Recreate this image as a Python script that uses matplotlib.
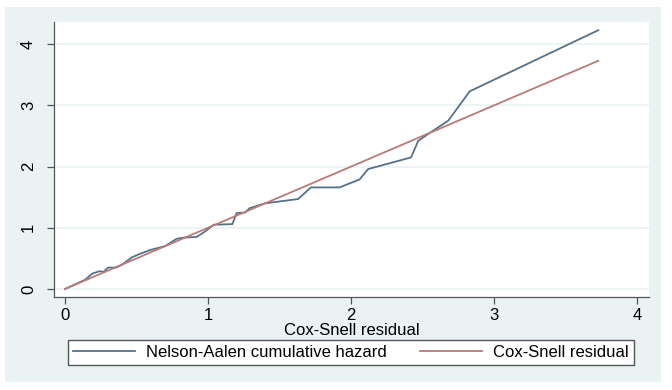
import matplotlib
matplotlib.use('Agg')
import matplotlib.pyplot as plt
from matplotlib.patches import Rectangle

plt.rcParams['font.family'] = ['Liberation Sans', 'DejaVu Sans']

# Nelson-Aalen cumulative hazard of the Cox-Snell residuals
cs_resid = [0, 0.14, 0.19, 0.24, 0.27, 0.30, 0.36, 0.40, 0.47, 0.53, 0.60, 0.70,
            0.78, 0.83, 0.92, 0.98, 1.04, 1.17, 1.20, 1.26, 1.29, 1.40, 1.63,
            1.72, 1.92, 2.06, 2.12, 2.42, 2.47, 2.55, 2.68, 2.83, 3.73]
na_hazard = [0, 0.15, 0.25, 0.29, 0.28, 0.35, 0.35, 0.40, 0.52, 0.58, 0.64, 0.70,
             0.82, 0.84, 0.85, 0.94, 1.05, 1.06, 1.24, 1.25, 1.32, 1.40, 1.47,
             1.66, 1.66, 1.79, 1.96, 2.15, 2.42, 2.55, 2.75, 3.23, 4.23]
# reference line y = x
ref_x = [0, 3.73]
ref_y = [0, 3.73]

W, H = 672, 390
fig = plt.figure(figsize=(W / 100, H / 100), dpi=100, facecolor='white')
fig.patches.append(Rectangle((5 / W, 1 - 382 / H), 656 / W, 375 / H,
                             transform=fig.transFigure, facecolor='#eaf2f3',
                             edgecolor='none', zorder=-10))

ax = fig.add_axes([54 / W, 1 - 297 / H, 595 / W, 275 / H])
ax.set_facecolor('white')
ax.plot(cs_resid, na_hazard, color='#55718a', lw=1.3,
        label='Nelson-Aalen cumulative hazard')
ax.plot(ref_x, ref_y, color='#b97a78', lw=1.3, label='Cox-Snell residual')

ax.set_xlim(-0.077, 4.084)
ax.set_ylim(-0.131, 4.363)
ax.set_xticks([0, 1, 2, 3, 4])
ax.set_yticks([0, 1, 2, 3, 4])
ax.grid(axis='y', color='#eaf2f3', lw=1.2)
ax.set_axisbelow(True)
for s in ['top', 'right']:
    ax.spines[s].set_visible(False)
for s in ['left', 'bottom']:
    ax.spines[s].set_color('#555555')
    ax.spines[s].set_linewidth(0.9)
ax.tick_params(colors='#555555', length=5, width=0.9, labelsize=12,
               labelcolor='black')
plt.setp(ax.get_yticklabels(), rotation=90, va='center')
ax.tick_params(axis='y', pad=8)
ax.tick_params(axis='x', pad=3)
ax.set_xlabel('Cox-Snell residual', fontsize=12, labelpad=0)

fig.legend(loc='lower left', bbox_to_anchor=(68 / W, 1 - 365 / H, 566 / W, 25 / H),
           mode='expand', ncol=2, fontsize=12, frameon=True, fancybox=False,
           edgecolor='#555555', framealpha=1, handlelength=3.7,
           borderaxespad=0, borderpad=0.3, handletextpad=0.7)

fig.savefig('out.png', dpi=100, facecolor='white')
